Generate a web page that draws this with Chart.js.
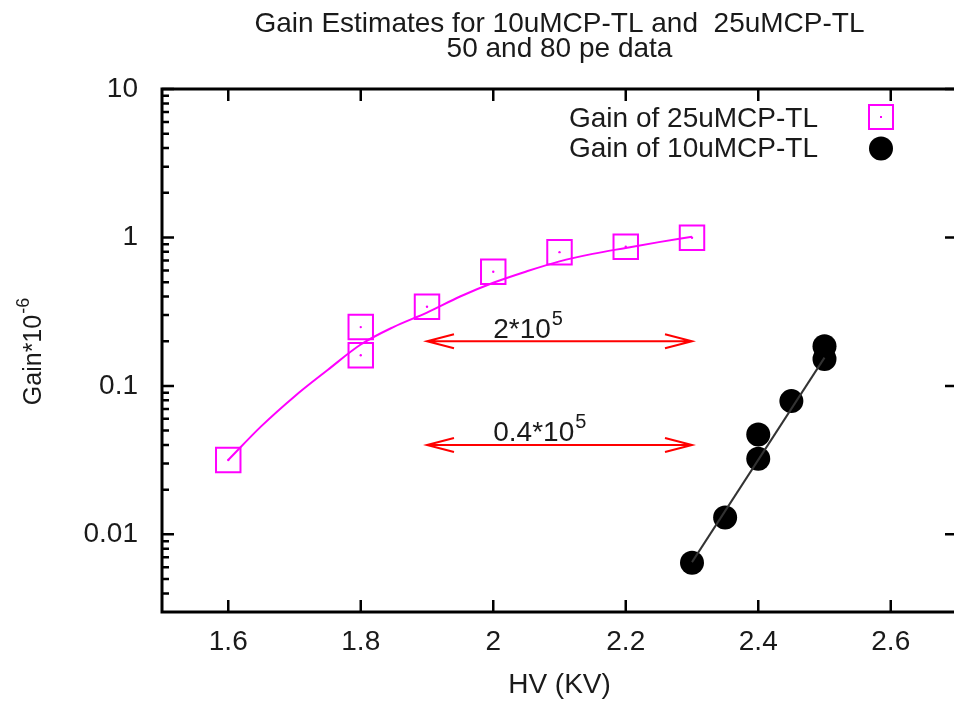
<!DOCTYPE html>
<html>
<head>
<meta charset="utf-8">
<title>Gain Estimates</title>
<script src="https://cdn.jsdelivr.net/npm/chart.js@4.4.0/dist/chart.umd.min.js"></script>
<style>
html, body { margin: 0; padding: 0; background: #fff; overflow: hidden; }
#wrap { position: absolute; left: 0; top: 0; width: 960px; height: 702px; }
</style>
</head>
<body>
<div id="wrap"><canvas id="gain-chart" width="960" height="702"></canvas></div>
<script>
// 25uMCP-TL measured gain
var hv25 = [1.6, 1.8, 1.8, 1.9, 2.0, 2.1, 2.2, 2.3];
var gain25 = [0.0317, 0.249, 0.161, 0.341, 0.587, 0.796, 0.866, 0.995];

// fit curve through the 25uMCP-TL points
var fitHv25 = [1.6, 1.65, 1.7, 1.75, 1.8, 1.85, 1.9, 1.95, 2.0, 2.05, 2.1, 2.15, 2.2, 2.25, 2.3];
var fitGain25 = [0.0317, 0.0536, 0.085, 0.128, 0.19, 0.25, 0.312, 0.40, 0.495, 0.59, 0.69, 0.775, 0.85, 0.93, 1.01];

// 10uMCP-TL measured gain
var hv10 = [2.3, 2.35, 2.4, 2.4, 2.45, 2.5, 2.5];
var gain10 = [0.00645, 0.0130, 0.0471, 0.0323, 0.079, 0.185, 0.152];

// straight fit for 10uMCP-TL
var fitHv10 = [2.3, 2.5];
var fitGain10 = [0.0065, 0.155];

var xTicks = [1.6, 1.8, 2.0, 2.2, 2.4, 2.6];
var xTickLabels = ['1.6', '1.8', '2', '2.2', '2.4', '2.6'];
var yTicks = [0.01, 0.1, 1, 10];
var yTickLabels = ['0.01', '0.1', '1', '10'];

// arrows showing the gain gap
var arrowFrom = [1.9, 1.9];
var arrowTo = [2.3, 2.3];
var arrowAt = [0.2, 0.04];
var arrowTextX = [2.0, 2.0];
var arrowText = ['2*10', '0.4*10'];
var arrowExp = ['5', '5'];

var FONT = '"Liberation Sans", Arial, sans-serif';
var TEXT = '#1a1a1a';
var MAGENTA = '#ff00ff';

function pairs(xs, ys) {
    return xs.map(function (x, i) { return { x: x, y: ys[i] }; });
}

var decor = {
    id: 'decor',
    afterDatasetsDraw: function (chart) {
        var ctx = chart.ctx;
        var xs = chart.scales.x, ys = chart.scales.y;
        ctx.save();
        ctx.strokeStyle = '#ff0000';
        ctx.lineWidth = 2;
        for (var i = 0; i < arrowAt.length; i++) {
            var x1 = xs.getPixelForValue(arrowFrom[i]);
            var x2 = xs.getPixelForValue(arrowTo[i]);
            var y = ys.getPixelForValue(arrowAt[i]);
            ctx.beginPath();
            ctx.moveTo(x1, y); ctx.lineTo(x2, y);
            ctx.moveTo(x1 + 27, y - 7); ctx.lineTo(x1, y); ctx.lineTo(x1 + 27, y + 7);
            ctx.moveTo(x2 - 27, y - 7); ctx.lineTo(x2, y); ctx.lineTo(x2 - 27, y + 7);
            ctx.stroke();

            var tx = xs.getPixelForValue(arrowTextX[i]);
            ctx.fillStyle = TEXT;
            ctx.textAlign = 'left';
            ctx.textBaseline = 'alphabetic';
            ctx.font = '28px ' + FONT;
            ctx.fillText(arrowText[i], tx, y - 3.5);
            var w = ctx.measureText(arrowText[i]).width;
            ctx.font = '20px ' + FONT;
            ctx.fillText(arrowExp[i], tx + w + 1, y - 16.5);
        }
        ctx.restore();
    },
    afterDraw: function (chart) {
        var ctx = chart.ctx, a = chart.chartArea;
        var xs = chart.scales.x, ys = chart.scales.y;
        ctx.save();

        // frame and inward ticks
        ctx.strokeStyle = '#000';
        ctx.lineWidth = 3;
        ctx.strokeRect(a.left, a.top, a.right - a.left, a.bottom - a.top);
        ctx.beginPath();
        xTicks.forEach(function (v) {
            var px = xs.getPixelForValue(v);
            ctx.moveTo(px, a.bottom); ctx.lineTo(px, a.bottom - 12);
            ctx.moveTo(px, a.top); ctx.lineTo(px, a.top + 12);
        });
        yTicks.forEach(function (v) {
            var py = ys.getPixelForValue(v);
            ctx.moveTo(a.left, py); ctx.lineTo(a.left + 12, py);
            ctx.moveTo(a.right, py); ctx.lineTo(a.right - 12, py);
        });
        for (var d = 0.001; d < 10; d *= 10) {
            for (var k = 2; k <= 9; k++) {
                var v = k * d;
                if (v <= ys.min || v >= ys.max) continue;
                var py = ys.getPixelForValue(v);
                ctx.moveTo(a.left, py); ctx.lineTo(a.left + 7, py);
            }
        }
        ctx.lineWidth = 2.5;
        ctx.stroke();

        var cx = (a.left + a.right) / 2;
        ctx.fillStyle = TEXT;
        ctx.textAlign = 'center';
        ctx.textBaseline = 'alphabetic';
        ctx.font = '28px ' + FONT;
        ctx.fillText('Gain Estimates for 10uMCP-TL and  25uMCP-TL', cx, 32);
        ctx.fillText('50 and 80 pe data', cx, 57);
        ctx.textBaseline = 'middle';
        ctx.fillText('HV (KV)', cx, 685);

        // y axis title with superscript
        ctx.save();
        ctx.translate(31, 352);
        ctx.rotate(-Math.PI / 2);
        ctx.font = '25px ' + FONT;
        var main = 'Gain*10';
        var mw = ctx.measureText(main).width;
        ctx.font = '18px ' + FONT;
        var sw = ctx.measureText('-6').width;
        var start = -(mw + sw) / 2;
        ctx.textAlign = 'left';
        ctx.textBaseline = 'alphabetic';
        ctx.font = '25px ' + FONT;
        ctx.fillText(main, start, 10);
        ctx.font = '18px ' + FONT;
        ctx.fillText('-6', start + mw + 1, -2);
        ctx.restore();

        // key
        ctx.font = '28px ' + FONT;
        ctx.textAlign = 'right';
        ctx.textBaseline = 'alphabetic';
        ctx.fillText('Gain of 25uMCP-TL', 818, 127);
        ctx.fillText('Gain of 10uMCP-TL', 818, 157);
        ctx.strokeStyle = MAGENTA;
        ctx.lineWidth = 2;
        ctx.strokeRect(881 - 12, 117 - 12, 24, 24);
        ctx.fillStyle = MAGENTA;
        ctx.fillRect(880, 116, 2, 2);
        ctx.fillStyle = '#000';
        ctx.beginPath();
        ctx.arc(881, 148.5, 12, 0, Math.PI * 2);
        ctx.fill();

        ctx.restore();
    }
};

Chart.defaults.font.family = FONT;
Chart.defaults.color = TEXT;

var ctx = document.getElementById('gain-chart').getContext('2d');
new Chart(ctx, {
    type: 'scatter',
    data: {
        datasets: [{
            label: 'fit 25',
            data: pairs(fitHv25, fitGain25),
            showLine: true,
            borderColor: MAGENTA,
            borderWidth: 2,
            pointRadius: 0,
            cubicInterpolationMode: 'monotone'
        }, {
            label: 'Gain of 25uMCP-TL',
            data: pairs(hv25, gain25),
            pointStyle: 'rect',
            pointRadius: 17.3,
            borderColor: MAGENTA,
            borderWidth: 2,
            backgroundColor: 'rgba(0,0,0,0)'
        }, {
            label: 'centres',
            data: pairs(hv25, gain25),
            pointRadius: 1.2,
            borderWidth: 0,
            backgroundColor: MAGENTA
        }, {
            label: 'fit 10',
            data: pairs(fitHv10, fitGain10),
            showLine: true,
            borderColor: '#333',
            borderWidth: 2,
            pointRadius: 0
        }, {
            label: 'Gain of 10uMCP-TL',
            data: pairs(hv10, gain10),
            pointStyle: 'circle',
            pointRadius: 12,
            borderWidth: 0,
            backgroundColor: '#000'
        }]
    },
    options: {
        responsive: false,
        animation: false,
        layout: {
            autoPadding: false,
            padding: { top: 89, right: 3, bottom: 0, left: 0 }
        },
        plugins: {
            legend: { display: false },
            tooltip: { enabled: false },
            title: { display: false }
        },
        scales: {
            x: {
                type: 'linear',
                min: 1.5,
                max: 2.7,
                grid: { display: false, drawTicks: false },
                border: { display: false },
                afterBuildTicks: function (s) {
                    s.ticks = xTicks.map(function (v) { return { value: v }; });
                },
                afterFit: function (s) {
                    s.height = 90;
                    s.paddingLeft = 0;
                    s.paddingRight = 0;
                },
                ticks: {
                    autoSkip: false,
                    maxRotation: 0,
                    padding: 13,
                    color: TEXT,
                    font: { size: 28 },
                    callback: function (value, index) { return xTickLabels[index]; }
                }
            },
            y: {
                type: 'logarithmic',
                min: 0.003,
                max: 10,
                grid: { display: false, drawTicks: false },
                border: { display: false },
                afterBuildTicks: function (s) {
                    s.ticks = yTicks.map(function (v) { return { value: v }; });
                },
                afterFit: function (s) {
                    s.width = 162;
                    s.paddingTop = 0;
                    s.paddingBottom = 0;
                },
                ticks: {
                    autoSkip: false,
                    padding: 24,
                    color: TEXT,
                    font: { size: 28 },
                    callback: function (value, index) { return yTickLabels[index]; }
                }
            }
        }
    },
    plugins: [decor]
});
</script>
</body>
</html>
